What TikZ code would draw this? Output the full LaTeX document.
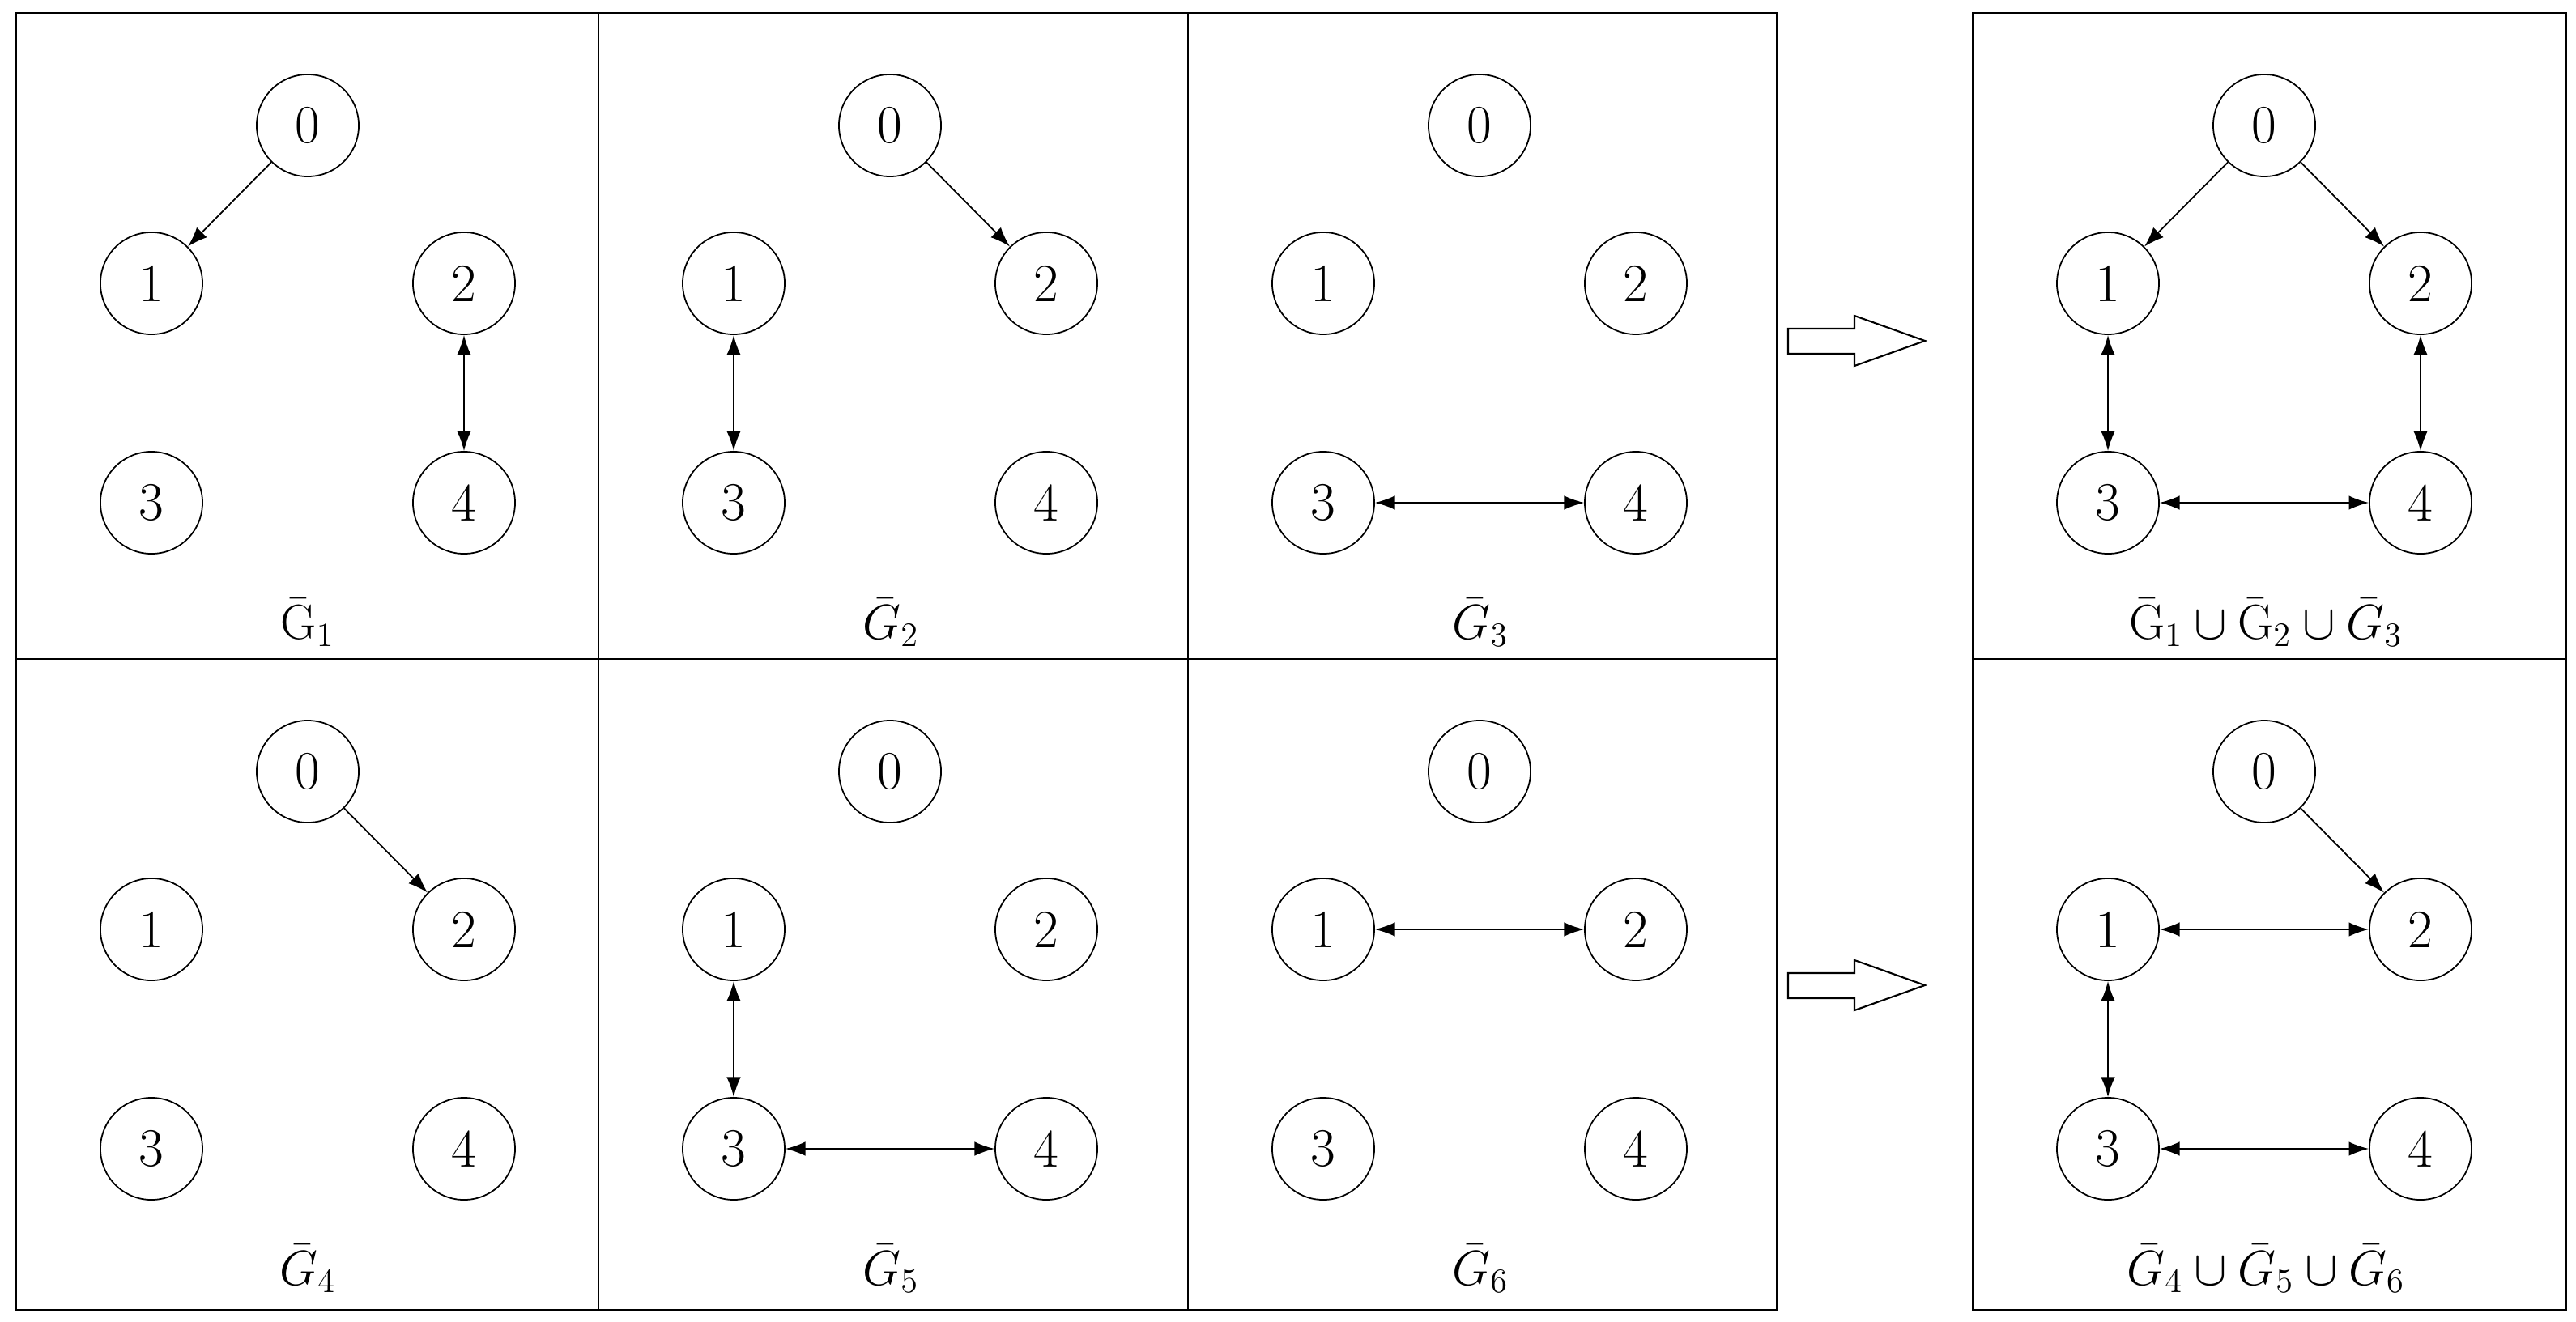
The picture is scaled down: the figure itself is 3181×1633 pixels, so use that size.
\documentclass[tikz,border=0pt]{standalone}
\usetikzlibrary{arrows.meta}
\begin{document}
\begin{tikzpicture}[x=0.01cm,y=-0.01cm,
  nd/.style={circle,draw,line width=0.5pt,minimum size=1.26cm,inner sep=0pt,font=\fontsize{19}{20}\selectfont},
  e/.style={line width=0.5pt,-{Latex[length=7pt,width=5pt]}},
  be/.style={line width=0.5pt,{Latex[length=7pt,width=5pt]}-{Latex[length=7pt,width=5pt]}},
  lab/.style={font=\fontsize{17}{20}\selectfont},
  pan/.style={draw,line width=0.6pt},
  bigarr/.style={draw,line width=0.6pt,line join=miter}]
\useasboundingbox (0,0) rectangle (3181,1633);
\fill[white] (0,0) rectangle (3181,1633);
% panels
\draw[pan] (20,16) rectangle (2194,1618);
\draw[pan] (20,814) -- (2194,814);
\draw[pan] (739,16) -- (739,1618);
\draw[pan] (1467,16) -- (1467,1618);
\draw[pan] (2436,16) rectangle (3169,1618);
\draw[pan] (2436,814) -- (3169,814);
% node macro
\newcommand{\mkgraph}[3]{% prefix, xoff, yoff
  \node[nd] (#1n0) at (#2+360,#3+155) {0};
  \node[nd] (#1n1) at (#2+167,#3+350) {1};
  \node[nd] (#1n2) at (#2+553,#3+350) {2};
  \node[nd] (#1n3) at (#2+167,#3+621) {3};
  \node[nd] (#1n4) at (#2+553,#3+621) {4};
}
\mkgraph{a}{20}{0}
\mkgraph{b}{739}{0}
\mkgraph{c}{1467}{0}
\mkgraph{r}{2436}{0}
\mkgraph{d}{20}{798}
\mkgraph{f}{739}{798}
\mkgraph{g}{1467}{798}
\mkgraph{s}{2436}{798}
% labels
\node[lab] (la) at (380,769) {$\bar{\mathrm{G}}_1$};
\node[lab] (lb) at (1100,769) {$\bar{G}_2$};
\node[lab] (lc) at (1828,769) {$\bar{G}_3$};
\node[lab] (lr) at (2798,769) {$\bar{\mathrm{G}}_1\cup\bar{\mathrm{G}}_2\cup\bar{G}_3$};
\node[lab] (ld) at (380,1567) {$\bar{G}_4$};
\node[lab] (lf) at (1100,1567) {$\bar{G}_5$};
\node[lab] (lg) at (1828,1567) {$\bar{G}_6$};
\node[lab] (ls) at (2798,1567) {$\bar{G}_4\cup\bar{G}_5\cup\bar{G}_6$};
% edges
\draw[e] (an0) -- (an1);
\draw[be] (an2) -- (an4);
\draw[e] (bn0) -- (bn2);
\draw[be] (bn1) -- (bn3);
\draw[be] (cn3) -- (cn4);
\draw[e] (rn0) -- (rn1);
\draw[e] (rn0) -- (rn2);
\draw[be] (rn1) -- (rn3);
\draw[be] (rn2) -- (rn4);
\draw[be] (rn3) -- (rn4);
\draw[e] (dn0) -- (dn2);
\draw[be] (fn1) -- (fn3);
\draw[be] (fn3) -- (fn4);
\draw[be] (gn1) -- (gn2);
\draw[e] (sn0) -- (sn2);
\draw[be] (sn1) -- (sn2);
\draw[be] (sn1) -- (sn3);
\draw[be] (sn3) -- (sn4);
% big arrows
\foreach \dy in {0,796}{
  \draw[bigarr] (2208,406+\dy) -- (2290,406+\dy) -- (2290,390+\dy) -- (2377,421+\dy)
     -- (2290,452+\dy) -- (2290,437+\dy) -- (2208,437+\dy) -- cycle;
}
\end{tikzpicture}
\end{document}
